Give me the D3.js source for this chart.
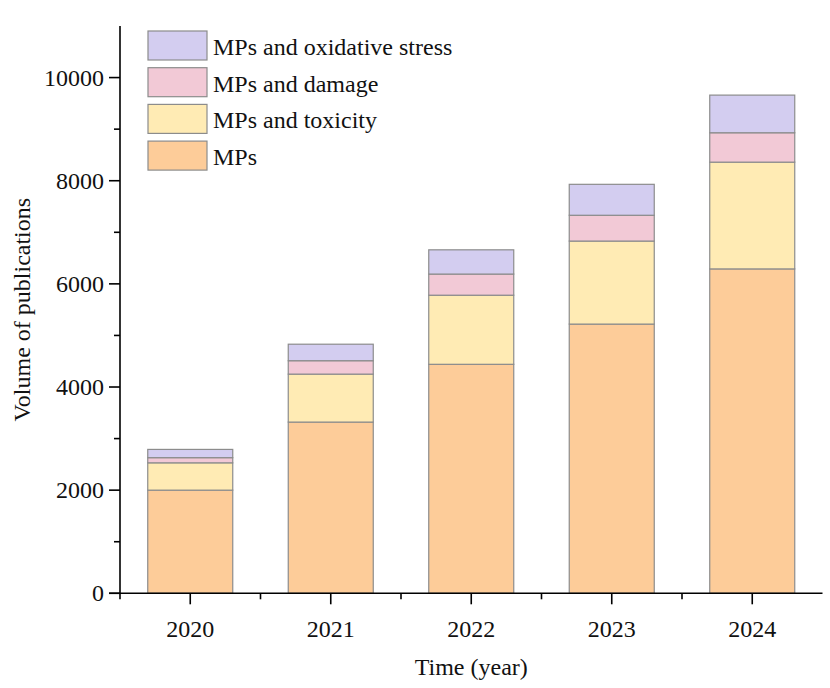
<!DOCTYPE html>
<html><head><meta charset="utf-8">
<script src="https://cdn.jsdelivr.net/npm/d3@7"></script>
<style>body{margin:0;background:#fff}svg{display:block}text{font-family:"Liberation Serif","Times New Roman",serif;fill:#111}</style>
</head><body>
<svg id="c" width="830" height="688"></svg>
<script>
const years = ["2020","2021","2022","2023","2024"];
const seriesNames = ["MPs","MPs and toxicity","MPs and damage","MPs and oxidative stress"];
const mps = [2000, 3320, 4440, 5220, 6290];
const toxicity = [530, 930, 1340, 1610, 2070];
const damage = [100, 260, 410, 500, 570];
const oxidative = [160, 320, 470, 600, 730];
const yTicks = [0, 2000, 4000, 6000, 8000, 10000];
const colors = ["#FDCC99", "#FFEBB4", "#F2C9D6", "#D3CDF0"];

const svg = d3.select("#c");
const x0 = 120, x1 = 822.5, y0 = 593.3, yTop = 26;
const x = d3.scaleBand().domain(years).range([x0, x1]).paddingInner(0.395).paddingOuter(0.1975);
const xb = d3.scaleBand().domain(years).range([x0, x1]).padding(0);
const y = d3.scaleLinear().domain([0, 11000]).range([y0, yTop]);

const table = years.map((yr, i) => ({year: yr, "MPs": mps[i], "MPs and toxicity": toxicity[i], "MPs and damage": damage[i], "MPs and oxidative stress": oxidative[i]}));
const stack = d3.stack().keys(seriesNames)(table);

svg.append("g").selectAll("g").data(stack).join("g")
  .attr("fill", (d, i) => colors[i])
  .selectAll("rect").data(d => d).join("rect")
  .attr("x", d => x(d.data.year))
  .attr("width", x.bandwidth())
  .attr("y", d => y(d[1]))
  .attr("height", d => y(d[0]) - y(d[1]))
  .attr("stroke", "#8c8c8c").attr("stroke-width", 1.2);

// Y axis
const gy = svg.append("g").attr("transform", `translate(${x0},0)`);
gy.append("line").attr("x1", 0).attr("x2", 0).attr("y1", yTop).attr("y2", y0).attr("stroke", "#000").attr("stroke-width", 1.6);
const yMinor = d3.range(1000, 11000, 2000);
gy.selectAll(".ym").data(yMinor).join("line").attr("x1", -6).attr("x2", 0).attr("y1", d => y(d)).attr("y2", d => y(d)).attr("stroke", "#000").attr("stroke-width", 1.6);
gy.selectAll(".yM").data(yTicks).join("line").attr("x1", -11).attr("x2", 0).attr("y1", d => y(d)).attr("y2", d => y(d)).attr("stroke", "#000").attr("stroke-width", 1.6);
gy.selectAll(".yl").data(yTicks).join("text").attr("x", -16).attr("y", d => y(d)).attr("dy", "0.34em").attr("text-anchor", "end").attr("font-size", 24).text(d => d);

// X axis
const gx = svg.append("g");
gx.append("line").attr("x1", x0 - 11).attr("x2", x1).attr("y1", y0).attr("y2", y0).attr("stroke", "#000").attr("stroke-width", 1.6);
const minorX = years.map(d => xb(d));
gx.selectAll(".xm").data(minorX).join("line").attr("x1", d => d).attr("x2", d => d).attr("y1", y0).attr("y2", y0 + 6).attr("stroke", "#000").attr("stroke-width", 1.6);
gx.selectAll(".xM").data(years).join("line").attr("x1", d => xb(d) + xb.bandwidth()/2).attr("x2", d => xb(d) + xb.bandwidth()/2).attr("y1", y0).attr("y2", y0 + 11).attr("stroke", "#000").attr("stroke-width", 1.6);
gx.selectAll(".xl").data(years).join("text").attr("x", d => xb(d) + xb.bandwidth()/2).attr("y", 637).attr("text-anchor", "middle").attr("font-size", 24).text(d => d);

// Axis titles
svg.append("text").attr("x", (x0 + x1)/2).attr("y", 675).attr("text-anchor", "middle").attr("font-size", 24).text("Time (year)");
svg.append("text").attr("transform", `translate(30,${(y0 + yTop)/2}) rotate(-90)`).attr("text-anchor", "middle").attr("font-size", 24).text("Volume of publications");

// Legend
const legendOrder = [3, 2, 1, 0];
const lg = svg.append("g");
legendOrder.forEach((si, r) => {
  const ty = 31 + r * 36.7;
  lg.append("rect").attr("x", 148).attr("y", ty).attr("width", 59).attr("height", 29).attr("fill", colors[si]).attr("stroke", "#8c8c8c").attr("stroke-width", 1.2);
  lg.append("text").attr("x", 213).attr("y", ty + 24).attr("font-size", 24).text(seriesNames[si]);
});
</script>
</body></html>
